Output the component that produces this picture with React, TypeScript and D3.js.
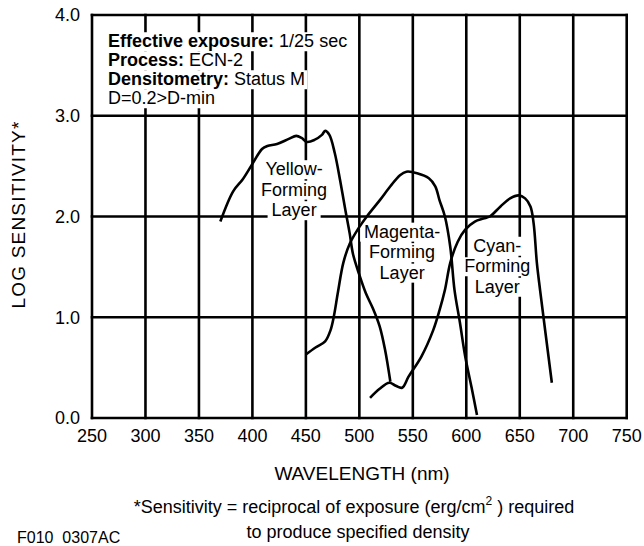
import React, { useEffect, useRef } from 'react';
import * as d3 from 'd3';

const W = 644, H = 546;
const plot = { left: 92, right: 626.7, top: 15, bottom: 418 };
const FONT = '"Liberation Sans", Arial, Helvetica, sans-serif';

const wavelengthTicks = [250, 300, 350, 400, 450, 500, 550, 600, 650, 700, 750];
const sensitivityTicks = [0, 1, 2, 3, 4];

const yellowNm = [370, 382, 391, 401, 409, 414, 423, 434, 441, 446, 451, 458, 465, 468, 472, 477, 482, 487, 491, 494, 500, 506, 513, 519, 524, 529];
const yellowLogS = [1.95, 2.25, 2.37, 2.54, 2.67, 2.7, 2.72, 2.77, 2.8, 2.78, 2.74, 2.76, 2.81, 2.85, 2.81, 2.63, 2.36, 2.06, 1.83, 1.63, 1.42, 1.24, 1.08, 0.91, 0.68, 0.36];

const magentaNm = [450, 459, 468, 473, 476, 480, 485, 491, 499, 507, 519, 529, 538, 544, 554, 565, 571, 575, 580, 585, 589, 594, 599, 605, 610];
const magentaLogS = [0.63, 0.7, 0.76, 0.87, 1.0, 1.25, 1.54, 1.73, 1.88, 2.0, 2.16, 2.3, 2.41, 2.445, 2.43, 2.38, 2.3, 2.16, 2.0, 1.7, 1.27, 0.95, 0.61, 0.3, 0.03];

const cyanNm = [510, 519, 528, 534, 540, 546, 558, 569, 575, 580, 585, 592, 599, 608, 616, 622, 632, 641, 649, 655, 660, 663, 666, 669, 680];
const cyanLogS = [0.2, 0.29, 0.35, 0.32, 0.3, 0.41, 0.61, 0.87, 1.07, 1.27, 1.54, 1.75, 1.87, 1.95, 1.98, 2.0, 2.1, 2.18, 2.21, 2.18, 2.1, 1.93, 1.54, 1.27, 0.35];

const series = [
  { name: 'yellow', nm: yellowNm, logS: yellowLogS },
  { name: 'magenta', nm: magentaNm, logS: magentaLogS },
  { name: 'cyan', nm: cyanNm, logS: cyanLogS },
];

// label anchors in data units (centre of first line)
const layerLabels = [
  { lines: ['Yellow-', 'Forming', 'Layer'], nm: 439, logS: 2.41 },
  { lines: ['Magenta-', 'Forming', 'Layer'], nm: 540, logS: 1.79 },
  { lines: ['Cyan-', 'Forming', 'Layer'], nm: 629, logS: 1.65 },
];

const infoLines: [string, string][] = [
  ['Effective exposure:', ' 1/25 sec'],
  ['Process:', ' ECN-2'],
  ['Densitometry:', ' Status M'],
  ['', 'D=0.2>D-min'],
];

const App: React.FC = () => {
  const svgRef = useRef<SVGSVGElement>(null);

  useEffect(() => {
    if (!svgRef.current) return;
    const svg = d3.select(svgRef.current);
    svg.selectAll('*').remove();

    const x = d3.scaleLinear().domain([250, 750]).range([plot.left, plot.right]);
    const y = d3.scaleLinear().domain([0, 4]).range([plot.bottom, plot.top]);

    svg.append('rect').attr('width', W).attr('height', H).attr('fill', '#fff');

    const grid = svg.append('g').attr('stroke', '#000').attr('stroke-width', 2.6).attr('stroke-linecap', 'square');
    const halo = svg.append('g').attr('fill', '#fff');
    const texts = svg.append('g').attr('font-family', FONT).attr('fill', '#000');
    const curves = svg.append('g');

    // grid + frame
    grid.selectAll('line.v').data(wavelengthTicks).join('line')
      .attr('x1', (d) => x(d)).attr('x2', (d) => x(d))
      .attr('y1', y(4)).attr('y2', y(0));
    grid.selectAll('line.h').data(sensitivityTicks).join('line')
      .attr('x1', x(250)).attr('x2', x(750))
      .attr('y1', (d) => y(d)).attr('y2', (d) => y(d));

    // tick labels
    texts.selectAll('text.yt').data(sensitivityTicks).join('text')
      .attr('x', plot.left - 12).attr('y', (d) => y(d)).attr('dy', '0.35em')
      .attr('text-anchor', 'end').attr('font-size', 18)
      .text((d) => d3.format('.1f')(d));
    texts.selectAll('text.xt').data(wavelengthTicks).join('text')
      .attr('x', (d) => x(d)).attr('y', plot.bottom + 24)
      .attr('text-anchor', 'middle').attr('font-size', 18)
      .text((d) => String(d));

    // axis titles
    texts.append('text')
      .attr('transform', `translate(25,${(plot.top + plot.bottom) / 2 - 2}) rotate(-90)`)
      .attr('text-anchor', 'middle').attr('font-size', 19).attr('letter-spacing', 1.2)
      .text('LOG SENSITIVITY*');
    texts.append('text')
      .attr('x', 362).attr('y', 480).attr('text-anchor', 'middle').attr('font-size', 19)
      .text('WAVELENGTH (nm)');

    const foot = texts.append('text')
      .attr('x', 354).attr('y', 513).attr('text-anchor', 'middle').attr('font-size', 18)
      .style('white-space', 'pre');
    foot.append('tspan').text('*Sensitivity = reciprocal of exposure (erg/cm');
    foot.append('tspan').attr('dy', -8).attr('font-size', 12).text('2');
    foot.append('tspan').attr('dy', 8).text(' ) required');
    texts.append('text')
      .attr('x', 358).attr('y', 538).attr('text-anchor', 'middle').attr('font-size', 18)
      .text('to produce specified density');
    texts.append('text')
      .attr('x', 17).attr('y', 543).attr('font-size', 16).style('white-space', 'pre')
      .text('F010  0307AC');

    // white box behind a text element
    const backWith = (node: SVGTextElement, padX: number) => {
      const b = node.getBBox();
      halo.append('rect')
        .attr('x', b.x - padX).attr('y', b.y + 1)
        .attr('width', b.width + padX * 2).attr('height', b.height - 1);
    };

    // info block
    infoLines.forEach(([bold, rest], i) => {
      const t = texts.append('text')
        .attr('x', x(265)).attr('y', y(3.68) + i * 19)
        .attr('font-size', 18).style('white-space', 'pre');
      if (bold) t.append('tspan').attr('font-weight', 'bold').text(bold);
      t.append('tspan').text(rest);
      backWith(t.node() as SVGTextElement, 2);
    });

    // layer labels
    layerLabels.forEach((lab) => {
      lab.lines.forEach((ln, i) => {
        const t = texts.append('text')
          .attr('x', x(lab.nm)).attr('y', y(lab.logS) + i * 20.5)
          .attr('text-anchor', 'middle').attr('font-size', 18)
          .text(ln);
        backWith(t.node() as SVGTextElement, 4);
      });
    });

    // curves
    const line = d3.line<[number, number]>()
      .x((d) => x(d[0]))
      .y((d) => y(d[1]))
      .curve(d3.curveCatmullRom.alpha(0.5));

    curves.selectAll('path').data(series).join('path')
      .attr('d', (s) => line(s.nm.map((n, i) => [n, s.logS[i]] as [number, number])))
      .attr('fill', 'none')
      .attr('stroke', '#000')
      .attr('stroke-width', 2.6)
      .attr('stroke-linejoin', 'round');
  }, []);

  return (
    <svg
      ref={svgRef}
      width={W}
      height={H}
      style={{ position: 'absolute', left: 0, top: 0, display: 'block' }}
    />
  );
};

export default App;
